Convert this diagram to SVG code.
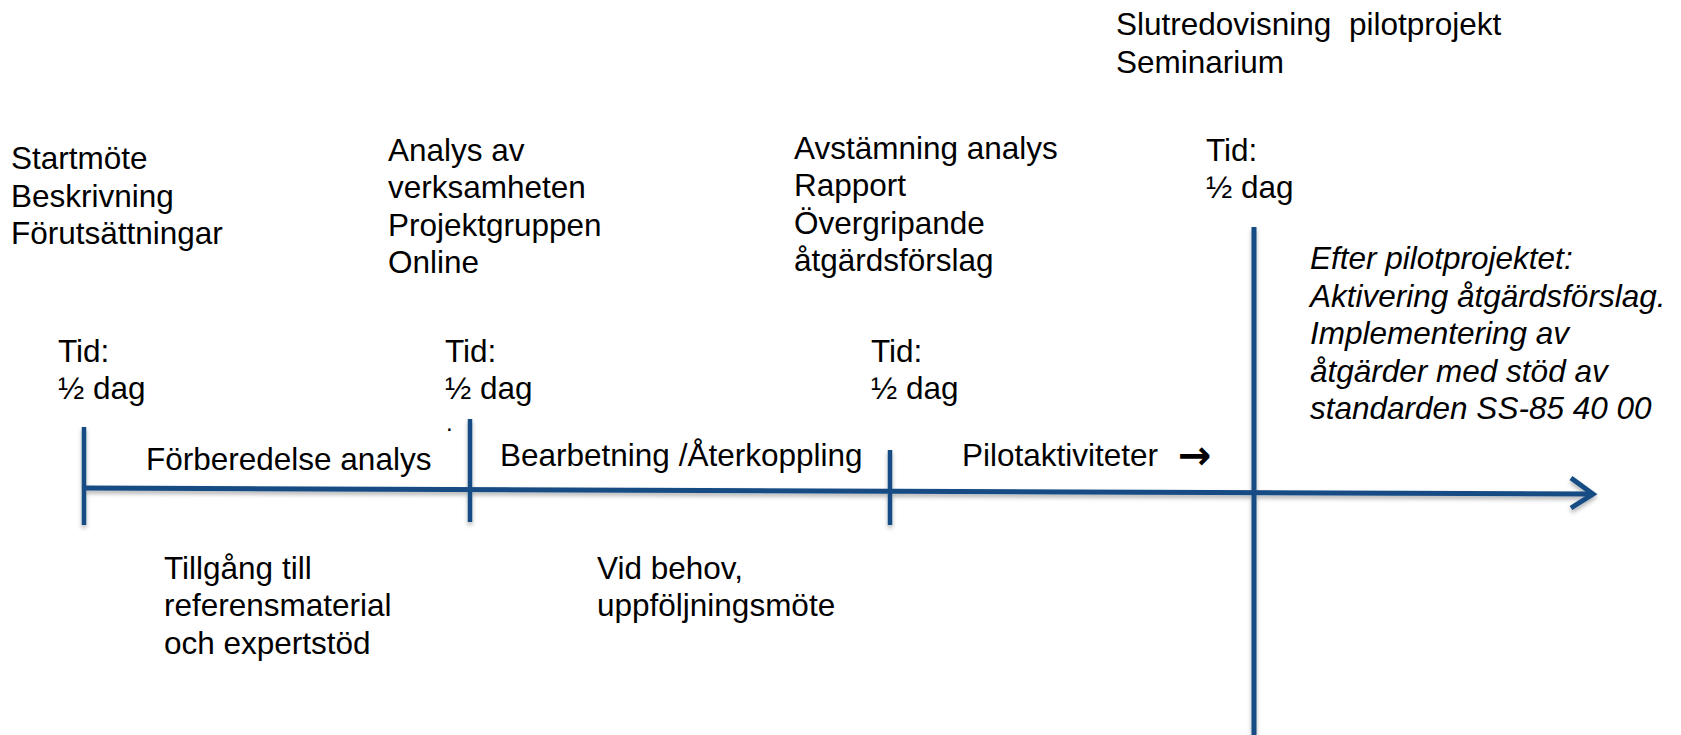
<svg xmlns="http://www.w3.org/2000/svg" width="1681" height="735" viewBox="0 0 1681 735">
<style>
text{font-family:"Liberation Sans",Arial,sans-serif;font-size:31.5px;fill:#000}
.it{font-style:italic}
.ar{font-family:"DejaVu Sans",sans-serif;font-size:40px;font-weight:bold}
.ln{stroke:#164C84;stroke-width:5;fill:none;stroke-linecap:butt}
.tk{stroke:#164C84;stroke-width:4.5;fill:none}
</style>
<defs>
<filter id="sh" x="-5%" y="-20%" width="110%" height="140%">
<feDropShadow dx="0" dy="3" stdDeviation="2" flood-color="#000" flood-opacity="0.3"/>
</filter>
</defs>
<rect width="1681" height="735" fill="#fff"/>
<g id="connectors" filter="url(#sh)">
<path class="ln" d="M84 488 L1592 494"/>
<path class="ln" d="M1571 478 L1593 494 L1571 508" stroke-linejoin="miter"/>
<path class="tk" d="M84 427 V525"/>
<path class="tk" d="M470 419 V522"/>
<path class="tk" d="M890 450 V525"/>
<path class="ln" d="M1254 227 V735"/>
</g>
<g id="start">
<text x="11" y="169">Startmöte</text>
<text x="11" y="207">Beskrivning</text>
<text x="11" y="244">Förutsättningar</text>
</g>
<g id="analys">
<text x="388" y="161">Analys av</text>
<text x="388" y="198">verksamheten</text>
<text x="388" y="236">Projektgruppen</text>
<text x="388" y="273">Online</text>
</g>
<g id="avstamning">
<text x="794" y="159">Avstämning analys</text>
<text x="794" y="196">Rapport</text>
<text x="794" y="234">Övergripande</text>
<text x="794" y="271">åtgärdsförslag</text>
</g>
<g id="slut">
<text x="1116" y="35" xml:space="preserve">Slutredovisning  pilotprojekt</text>
<text x="1116" y="73">Seminarium</text>
</g>
<g id="tid4">
<text x="1206" y="161">Tid:</text>
<text x="1206" y="198">½ dag</text>
</g>
<g id="efter">
<text class="it" x="1310" y="269">Efter pilotprojektet:</text>
<text class="it" x="1310" y="307">Aktivering åtgärdsförslag.</text>
<text class="it" x="1310" y="344">Implementering av</text>
<text class="it" x="1310" y="382">åtgärder med stöd av</text>
<text class="it" x="1310" y="419">standarden SS-85 40 00</text>
</g>
<g id="tid1">
<text x="58" y="362">Tid:</text>
<text x="58" y="399">½ dag</text>
</g>
<g id="tid2">
<text x="445" y="362">Tid:</text>
<text x="445" y="399">½ dag</text>
<text x="446" y="431" style="font-size:24px">.</text>
</g>
<g id="tid3">
<text x="871" y="362">Tid:</text>
<text x="871" y="399">½ dag</text>
</g>
<g id="fas1">
<text x="146" y="470">Förberedelse analys</text>
</g>
<g id="fas2">
<text x="500" y="466">Bearbetning /Återkoppling</text>
</g>
<g id="fas3">
<text x="962" y="466">Pilotaktiviteter<tspan class="ar" x="1178" y="469">→</tspan></text>
</g>
<g id="tillgang">
<text x="164" y="579">Tillgång till</text>
<text x="164" y="616">referensmaterial</text>
<text x="164" y="654">och expertstöd</text>
</g>
<g id="vidbehov">
<text x="597" y="579">Vid behov,</text>
<text x="597" y="616">uppföljningsmöte</text>
</g>
</svg>
